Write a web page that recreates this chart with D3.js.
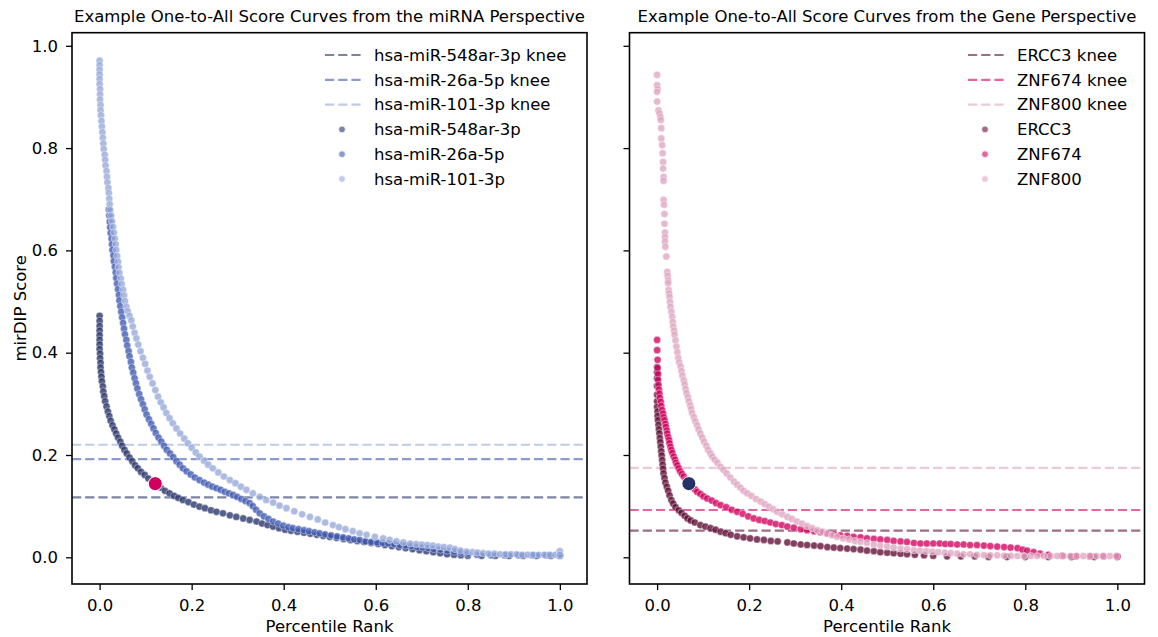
<!DOCTYPE html>
<html>
<head>
<meta charset="utf-8">
<script src="https://cdn.jsdelivr.net/npm/d3@7"></script>
<style>
body { margin: 0; background: #fff; }
svg text { font-family: "DejaVu Sans", sans-serif; fill: #000; }
</style>
</head>
<body>
<div id="chartContainer"></div>
<script>
var width = 1158,
    height = 637;

var xTicks = [0.0, 0.2, 0.4, 0.6, 0.8, 1.0];
var yTicks = [0.0, 0.2, 0.4, 0.6, 0.8, 1.0];

var mirNames = ["hsa-miR-548ar-3p", "hsa-miR-26a-5p", "hsa-miR-101-3p"];
var geneNames = ["ERCC3", "ZNF674", "ZNF800"];

var mirKnees = [0.117, 0.192, 0.220];
var geneKnees = [0.052, 0.0925, 0.175];

var mirHighlight = [0.121, 0.144];
var geneHighlight = [0.069, 0.144];

// [percentile rank, mirDIP score]
var mir548ar = [[0.000,0.472],[0.000,0.462],[0.000,0.452],[0.000,0.443],[0.000,0.434],[0.000,0.425],[0.000,0.416],[0.000,0.407],[0.001,0.398],[0.001,0.389],[0.002,0.380],[0.002,0.371],[0.003,0.362],[0.004,0.353],[0.005,0.344],[0.007,0.334],[0.008,0.324],[0.010,0.315],[0.012,0.305],[0.015,0.295],[0.018,0.285],[0.021,0.276],[0.024,0.267],[0.028,0.258],[0.032,0.250],[0.036,0.242],[0.040,0.234],[0.045,0.226],[0.049,0.218],[0.054,0.210],[0.059,0.203],[0.065,0.195],[0.071,0.188],[0.077,0.180],[0.083,0.174],[0.090,0.167],[0.098,0.161],[0.106,0.154],[0.115,0.147],[0.123,0.141],[0.133,0.136],[0.142,0.130],[0.152,0.125],[0.162,0.120],[0.171,0.116],[0.181,0.112],[0.193,0.108],[0.205,0.103],[0.217,0.099],[0.229,0.096],[0.242,0.092],[0.254,0.089],[0.268,0.086],[0.283,0.082],[0.297,0.079],[0.312,0.076],[0.326,0.073],[0.341,0.070],[0.353,0.066],[0.365,0.063],[0.377,0.060],[0.390,0.057],[0.403,0.054],[0.416,0.052],[0.430,0.050],[0.444,0.048],[0.458,0.046],[0.472,0.044],[0.486,0.042],[0.500,0.040],[0.515,0.038],[0.530,0.036],[0.545,0.034],[0.560,0.032],[0.575,0.030],[0.590,0.028],[0.605,0.026],[0.620,0.024],[0.635,0.022],[0.650,0.020],[0.665,0.018],[0.680,0.016],[0.695,0.014],[0.710,0.012],[0.725,0.010],[0.740,0.008],[0.755,0.006],[0.770,0.005],[0.785,0.004],[0.800,0.003],[0.830,0.003],[0.860,0.003],[0.890,0.003],[0.920,0.003],[0.950,0.003],[0.980,0.003],[1.000,0.003]];

var mir26a = [[0.020,0.680],[0.021,0.668],[0.022,0.656],[0.023,0.645],[0.024,0.634],[0.026,0.623],[0.027,0.612],[0.028,0.601],[0.030,0.590],[0.031,0.579],[0.033,0.568],[0.035,0.557],[0.036,0.546],[0.038,0.535],[0.040,0.524],[0.042,0.513],[0.043,0.502],[0.045,0.491],[0.047,0.480],[0.049,0.469],[0.051,0.458],[0.053,0.447],[0.055,0.436],[0.058,0.425],[0.060,0.414],[0.063,0.403],[0.065,0.393],[0.068,0.382],[0.070,0.371],[0.073,0.361],[0.076,0.350],[0.079,0.340],[0.082,0.330],[0.086,0.319],[0.090,0.309],[0.094,0.299],[0.098,0.289],[0.102,0.279],[0.107,0.270],[0.112,0.261],[0.117,0.252],[0.122,0.243],[0.128,0.234],[0.134,0.226],[0.140,0.218],[0.146,0.210],[0.153,0.203],[0.160,0.196],[0.167,0.188],[0.174,0.181],[0.181,0.174],[0.189,0.168],[0.198,0.162],[0.207,0.156],[0.217,0.151],[0.227,0.146],[0.236,0.142],[0.245,0.138],[0.254,0.135],[0.263,0.132],[0.272,0.128],[0.281,0.125],[0.290,0.122],[0.299,0.118],[0.308,0.114],[0.317,0.110],[0.326,0.106],[0.333,0.100],[0.340,0.093],[0.348,0.086],[0.357,0.080],[0.367,0.075],[0.377,0.070],[0.388,0.066],[0.399,0.062],[0.410,0.059],[0.420,0.057],[0.432,0.055],[0.444,0.053],[0.455,0.051],[0.467,0.049],[0.478,0.047],[0.490,0.045],[0.503,0.043],[0.516,0.041],[0.529,0.039],[0.541,0.037],[0.553,0.035],[0.565,0.034],[0.578,0.031],[0.590,0.030],[0.603,0.029],[0.615,0.028],[0.627,0.027],[0.640,0.026],[0.652,0.024],[0.665,0.023],[0.677,0.022],[0.690,0.020],[0.702,0.019],[0.714,0.018],[0.726,0.016],[0.740,0.015],[0.755,0.013],[0.770,0.011],[0.785,0.009],[0.800,0.007],[0.820,0.005],[0.850,0.004],[0.880,0.004],[0.910,0.004],[0.940,0.004],[0.970,0.004],[1.000,0.004]];

var mir101 = [[0.000,0.971],[0.000,0.962],[0.000,0.953],[0.000,0.944],[0.000,0.935],[0.000,0.925],[0.001,0.915],[0.001,0.905],[0.001,0.895],[0.002,0.884],[0.002,0.874],[0.003,0.864],[0.004,0.853],[0.005,0.842],[0.006,0.831],[0.007,0.820],[0.008,0.809],[0.009,0.798],[0.011,0.787],[0.012,0.777],[0.013,0.766],[0.015,0.755],[0.016,0.744],[0.017,0.733],[0.019,0.722],[0.020,0.712],[0.021,0.701],[0.022,0.690],[0.023,0.679],[0.025,0.668],[0.027,0.657],[0.029,0.646],[0.031,0.635],[0.033,0.623],[0.035,0.612],[0.036,0.601],[0.038,0.589],[0.040,0.578],[0.041,0.567],[0.043,0.556],[0.046,0.545],[0.048,0.534],[0.051,0.523],[0.053,0.512],[0.055,0.501],[0.058,0.490],[0.061,0.481],[0.065,0.472],[0.069,0.463],[0.072,0.451],[0.076,0.439],[0.080,0.428],[0.084,0.416],[0.089,0.403],[0.094,0.390],[0.099,0.378],[0.104,0.365],[0.109,0.353],[0.115,0.340],[0.121,0.327],[0.127,0.314],[0.133,0.303],[0.139,0.293],[0.145,0.282],[0.152,0.272],[0.159,0.262],[0.167,0.252],[0.175,0.242],[0.184,0.232],[0.192,0.223],[0.200,0.214],[0.209,0.205],[0.217,0.197],[0.227,0.189],[0.236,0.181],[0.246,0.174],[0.258,0.166],[0.270,0.158],[0.283,0.151],[0.295,0.145],[0.307,0.138],[0.319,0.132],[0.333,0.125],[0.348,0.118],[0.362,0.112],[0.377,0.107],[0.391,0.101],[0.406,0.096],[0.423,0.090],[0.440,0.084],[0.457,0.079],[0.474,0.074],[0.490,0.068],[0.507,0.063],[0.520,0.059],[0.534,0.055],[0.550,0.051],[0.565,0.047],[0.580,0.044],[0.598,0.040],[0.616,0.037],[0.630,0.034],[0.645,0.031],[0.660,0.029],[0.675,0.027],[0.688,0.026],[0.700,0.025],[0.712,0.024],[0.724,0.023],[0.736,0.021],[0.748,0.020],[0.761,0.019],[0.772,0.016],[0.784,0.013],[0.797,0.011],[0.810,0.010],[0.821,0.009],[0.833,0.008],[0.845,0.007],[0.858,0.007],[0.870,0.006],[0.882,0.006],[0.894,0.006],[0.906,0.006],[0.918,0.005],[0.930,0.005],[0.942,0.005],[0.954,0.005],[0.966,0.005],[0.978,0.005],[0.990,0.005],[1.000,0.012],[1.000,0.005]];

var geneERCC3 = [[0.000,0.372],[0.000,0.362],[0.000,0.350],[0.000,0.335],[0.000,0.318],[0.000,0.305],[0.000,0.294],[0.001,0.285],[0.001,0.276],[0.002,0.268],[0.003,0.259],[0.004,0.250],[0.005,0.242],[0.006,0.233],[0.007,0.225],[0.008,0.216],[0.009,0.207],[0.010,0.199],[0.011,0.190],[0.012,0.181],[0.013,0.173],[0.014,0.164],[0.016,0.155],[0.018,0.146],[0.021,0.138],[0.024,0.130],[0.027,0.121],[0.031,0.112],[0.035,0.105],[0.040,0.098],[0.047,0.092],[0.053,0.087],[0.060,0.081],[0.066,0.076],[0.073,0.072],[0.082,0.068],[0.094,0.063],[0.105,0.060],[0.116,0.057],[0.127,0.054],[0.138,0.050],[0.149,0.047],[0.160,0.044],[0.174,0.041],[0.188,0.039],[0.202,0.037],[0.217,0.035],[0.232,0.034],[0.247,0.032],[0.262,0.031],[0.283,0.029],[0.297,0.027],[0.312,0.025],[0.326,0.024],[0.341,0.023],[0.355,0.022],[0.370,0.020],[0.384,0.019],[0.398,0.018],[0.413,0.017],[0.427,0.016],[0.442,0.015],[0.456,0.013],[0.471,0.012],[0.485,0.010],[0.500,0.009],[0.514,0.008],[0.529,0.007],[0.543,0.006],[0.560,0.005],[0.580,0.004],[0.600,0.003],[0.630,0.002],[0.660,0.002],[0.690,0.002],[0.720,0.001],[0.760,0.001],[0.800,0.001],[0.850,0.001],[0.900,0.001],[0.950,0.001],[1.000,0.001]];

var geneZNF674 = [[0.000,0.425],[0.000,0.405],[0.001,0.386],[0.001,0.370],[0.002,0.358],[0.002,0.347],[0.003,0.337],[0.004,0.328],[0.005,0.320],[0.006,0.312],[0.008,0.304],[0.009,0.296],[0.011,0.288],[0.013,0.281],[0.014,0.274],[0.016,0.268],[0.018,0.261],[0.019,0.255],[0.021,0.248],[0.022,0.242],[0.024,0.235],[0.026,0.229],[0.027,0.223],[0.029,0.216],[0.031,0.210],[0.033,0.204],[0.036,0.197],[0.039,0.191],[0.041,0.185],[0.044,0.180],[0.047,0.174],[0.050,0.168],[0.054,0.163],[0.058,0.158],[0.062,0.152],[0.066,0.146],[0.071,0.142],[0.076,0.137],[0.082,0.133],[0.087,0.128],[0.094,0.124],[0.101,0.119],[0.109,0.115],[0.119,0.111],[0.128,0.106],[0.138,0.102],[0.150,0.098],[0.162,0.093],[0.174,0.089],[0.186,0.085],[0.198,0.080],[0.210,0.076],[0.222,0.073],[0.234,0.071],[0.246,0.068],[0.258,0.065],[0.271,0.063],[0.283,0.060],[0.297,0.058],[0.312,0.055],[0.326,0.053],[0.341,0.051],[0.355,0.049],[0.370,0.047],[0.384,0.045],[0.398,0.043],[0.413,0.042],[0.427,0.040],[0.442,0.039],[0.456,0.037],[0.471,0.036],[0.485,0.035],[0.500,0.034],[0.514,0.032],[0.529,0.031],[0.543,0.030],[0.558,0.028],[0.572,0.027],[0.586,0.027],[0.600,0.027],[0.614,0.027],[0.626,0.026],[0.638,0.026],[0.652,0.025],[0.666,0.025],[0.680,0.024],[0.695,0.024],[0.710,0.023],[0.724,0.022],[0.739,0.021],[0.754,0.020],[0.768,0.019],[0.783,0.018],[0.794,0.015],[0.804,0.013],[0.818,0.010],[0.832,0.007],[0.850,0.005],[0.880,0.003],[0.910,0.002],[0.940,0.002],[0.970,0.002],[1.000,0.002]];

var geneZNF800 = [[0.000,0.943],[0.000,0.923],[0.001,0.915],[0.000,0.910],[0.000,0.891],[0.003,0.874],[0.005,0.868],[0.007,0.861],[0.008,0.855],[0.009,0.839],[0.009,0.819],[0.011,0.806],[0.012,0.790],[0.013,0.773],[0.013,0.760],[0.014,0.744],[0.014,0.736],[0.014,0.699],[0.015,0.689],[0.016,0.671],[0.016,0.652],[0.017,0.635],[0.017,0.626],[0.017,0.617],[0.018,0.607],[0.020,0.588],[0.022,0.558],[0.023,0.550],[0.024,0.541],[0.024,0.536],[0.025,0.523],[0.026,0.516],[0.027,0.509],[0.028,0.499],[0.029,0.490],[0.031,0.480],[0.033,0.470],[0.034,0.460],[0.035,0.451],[0.037,0.443],[0.038,0.435],[0.040,0.424],[0.042,0.412],[0.044,0.401],[0.046,0.390],[0.048,0.381],[0.051,0.373],[0.053,0.364],[0.055,0.355],[0.058,0.346],[0.060,0.338],[0.062,0.329],[0.064,0.321],[0.067,0.313],[0.069,0.305],[0.072,0.297],[0.074,0.290],[0.076,0.282],[0.080,0.274],[0.083,0.266],[0.087,0.258],[0.090,0.250],[0.094,0.242],[0.098,0.234],[0.102,0.226],[0.107,0.218],[0.111,0.210],[0.116,0.203],[0.120,0.197],[0.125,0.191],[0.131,0.185],[0.138,0.177],[0.144,0.171],[0.151,0.164],[0.159,0.156],[0.167,0.148],[0.174,0.142],[0.181,0.136],[0.188,0.130],[0.196,0.125],[0.205,0.120],[0.215,0.114],[0.225,0.109],[0.234,0.104],[0.243,0.099],[0.252,0.094],[0.261,0.089],[0.272,0.084],[0.283,0.079],[0.293,0.075],[0.304,0.070],[0.315,0.066],[0.326,0.061],[0.337,0.057],[0.348,0.053],[0.359,0.050],[0.369,0.046],[0.380,0.043],[0.391,0.040],[0.404,0.037],[0.417,0.035],[0.430,0.032],[0.442,0.030],[0.456,0.028],[0.471,0.025],[0.485,0.023],[0.500,0.021],[0.514,0.019],[0.529,0.017],[0.543,0.016],[0.558,0.014],[0.571,0.013],[0.585,0.012],[0.598,0.011],[0.611,0.010],[0.625,0.009],[0.638,0.008],[0.652,0.007],[0.666,0.006],[0.680,0.006],[0.695,0.005],[0.710,0.0045],[0.724,0.004],[0.739,0.004],[0.754,0.003],[0.769,0.003],[0.783,0.0025],[0.797,0.0025],[0.812,0.0025],[0.826,0.0025],[0.840,0.0025],[0.855,0.0025],[0.869,0.0025],[0.883,0.0025],[0.898,0.0025],[0.912,0.0025],[0.926,0.0025],[0.941,0.0025],[0.955,0.0025],[0.969,0.0025],[0.984,0.0025],[0.998,0.0025]];


function draw() {
	"use strict";

	var fontSize = 16.5;
	var top = 32.7, bottom = 584, panelWidth = 515;
	var mirColors = ["#253269", "#3e58b1", "#96a8da"];
	var geneColors = ["#5f0a33", "#d1005e", "#dfa5c1"];

	var svg = d3.select("#chartContainer").append("svg")
		.attr("width", width)
		.attr("height", height);

	var y = d3.scaleLinear().domain([-0.0522, 1.0256]).range([bottom, top]);

	/* Function to draw one panel */
	function drawPanel(left, title, names, series, knees, colors, hi, hiColor, showYLabels, legendX) {
		var x = d3.scaleLinear().domain([-0.06, 1.059]).range([left, left + panelWidth]);
		var g = svg.append("g");

		// knee lines
		knees.forEach(function(k, i) {
			g.append("line")
				.attr("x1", left).attr("x2", left + panelWidth)
				.attr("y1", y(k)).attr("y2", y(k))
				.attr("stroke", colors[i])
				.attr("stroke-opacity", 0.6)
				.attr("stroke-width", 2.2)
				.attr("stroke-dasharray", "9.2,4");
		});

		// score curves (dense overlap in the original, so a higher opacity here)
		series.forEach(function(s, i) {
			g.append("g").selectAll("circle")
				.data(s)
				.enter()
				.append("circle")
				.attr("cx", function(d) { return x(d[0]); })
				.attr("cy", function(d) { return y(d[1]); })
				.attr("r", 3.6)
				.attr("fill", colors[i])
				.attr("fill-opacity", 0.78)
				.attr("stroke", "#fff")
				.attr("stroke-width", 0.8)
				.attr("stroke-opacity", 0.5);
		});

		// highlighted knee point
		g.append("circle")
			.attr("cx", x(hi[0]))
			.attr("cy", y(hi[1]))
			.attr("r", 7)
			.attr("fill", hiColor)
			.attr("stroke", "#fff")
			.attr("stroke-width", 1);

		// axes
		var xAxis = d3.axisBottom(x).tickValues(xTicks).tickFormat(d3.format(".1f"))
			.tickSize(6).tickPadding(9).tickSizeOuter(0);
		var gx = g.append("g").attr("transform", "translate(0," + bottom + ")").call(xAxis);

		var yAxis = d3.axisLeft(y).tickValues(yTicks).tickFormat(showYLabels ? d3.format(".1f") : "")
			.tickSize(6).tickPadding(8).tickSizeOuter(0);
		var gy = g.append("g").attr("transform", "translate(" + left + ",0)").call(yAxis);

		[gx, gy].forEach(function(a) {
			a.select(".domain").remove();
			a.selectAll(".tick line").attr("stroke", "#000").attr("stroke-width", 1.3);
			a.selectAll(".tick text").style("font-size", fontSize + "px").attr("fill", "#000");
		});

		// frame
		g.append("rect")
			.attr("x", left).attr("y", top)
			.attr("width", panelWidth).attr("height", bottom - top)
			.attr("fill", "none")
			.attr("stroke", "#000")
			.attr("stroke-width", 1.6);

		// titles
		g.append("text")
			.attr("x", left + panelWidth / 2)
			.attr("y", 22)
			.style("text-anchor", "middle")
			.style("font-size", fontSize + "px")
			.text(title);

		g.append("text")
			.attr("x", left + panelWidth / 2)
			.attr("y", 632)
			.style("text-anchor", "middle")
			.style("font-size", fontSize + "px")
			.text("Percentile Rank");

		// legend
		var rowGap = 24.8, firstRow = 55;
		names.forEach(function(n, i) {
			var ry = firstRow + i * rowGap;
			g.append("line")
				.attr("x1", legendX).attr("x2", legendX + 35.6)
				.attr("y1", ry).attr("y2", ry)
				.attr("stroke", colors[i])
				.attr("stroke-opacity", 0.6)
				.attr("stroke-width", 2.2)
				.attr("stroke-dasharray", "9.2,4");
			g.append("text")
				.attr("x", legendX + 49)
				.attr("y", ry)
				.attr("dy", "0.35em")
				.style("font-size", fontSize + "px")
				.text(n + " knee");
		});
		names.forEach(function(n, i) {
			var ry = firstRow + (i + 3) * rowGap;
			g.append("circle")
				.attr("cx", legendX + 17)
				.attr("cy", ry)
				.attr("r", 3.4)
				.attr("fill", colors[i])
				.attr("fill-opacity", 0.6)
				.attr("stroke", "#fff")
				.attr("stroke-width", 0.8);
			g.append("text")
				.attr("x", legendX + 49)
				.attr("y", ry)
				.attr("dy", "0.35em")
				.style("font-size", fontSize + "px")
				.text(n);
		});
	}

	drawPanel(72, "Example One-to-All Score Curves from the miRNA Perspective",
		mirNames, [mir548ar, mir26a, mir101], mirKnees, mirColors,
		mirHighlight, geneColors[1], true, 325);

	drawPanel(629.5, "Example One-to-All Score Curves from the Gene Perspective",
		geneNames, [geneERCC3, geneZNF674, geneZNF800], geneKnees, geneColors,
		geneHighlight, mirColors[0], false, 968);

	// shared y label
	svg.append("text")
		.attr("transform", "translate(20," + ((top + bottom) / 2) + ") rotate(-90)")
		.attr("dy", "0.35em")
		.style("text-anchor", "middle")
		.style("font-size", fontSize + "px")
		.text("mirDIP Score");
}

draw();
</script>
</body>
</html>
